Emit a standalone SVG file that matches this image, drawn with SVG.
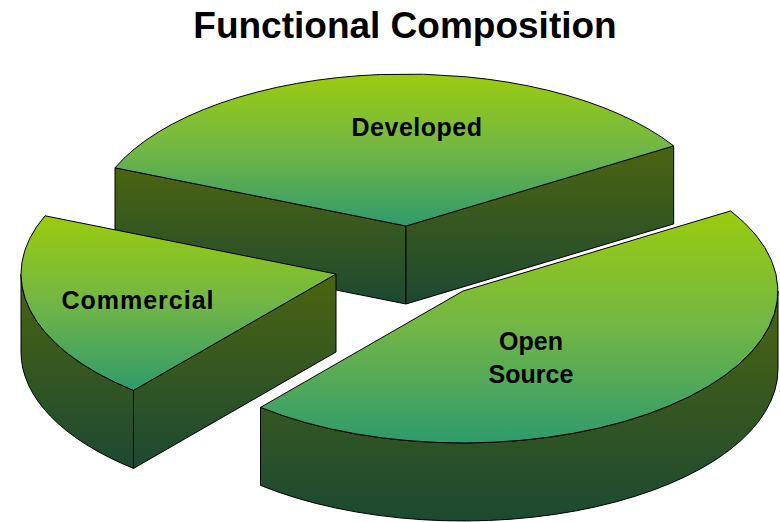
<svg xmlns="http://www.w3.org/2000/svg" width="780" height="522" viewBox="0 0 780 522">
<defs>
<linearGradient id="topG" x1="0" y1="0" x2="0" y2="1">
<stop offset="0" stop-color="#9ACC0E"/>
<stop offset="0.5" stop-color="#72B646"/>
<stop offset="1" stop-color="#2F9B6C"/>
</linearGradient>
<linearGradient id="sideG" x1="0" y1="0" x2="0" y2="1">
<stop offset="0" stop-color="#4C6410"/>
<stop offset="1" stop-color="#1C4932"/>
</linearGradient>
</defs>
<style>
.top{fill:url(#topG);stroke:#000;stroke-width:1;stroke-linejoin:round}
.side{fill:url(#sideG);stroke:#000;stroke-width:1;stroke-linejoin:round}
text{font-family:"Liberation Sans",Arial,sans-serif;font-weight:bold;fill:#000;text-anchor:middle}
.lbl{font-size:25px}
</style>
<rect width="780" height="522" fill="#fff"/>
<text x="405" y="38" style="font-size:37px">Functional Composition</text>
<g id="developed">
<path class="side" d="M115,167.8 L406,226 L406,304 L115,245.8 Z"/>
<path class="side" d="M406,226 L673.7,145.9 L673.7,223.9 L406,304 Z"/>
<path class="top" d="M406,226 L115,167.8 A315,152 0 0 1 673.7,145.9 Z"/>
<text class="lbl" x="417" y="136" letter-spacing="0.5">Developed</text>
</g>
<g id="commercial">
<path class="side" d="M21,274 A315,152 0 0 0 133.5,390.4 L133.5,468.4 A315,152 0 0 1 21,352 Z"/>
<path class="side" d="M133.5,390.4 L336,274 L336,352 L133.5,468.4 Z"/>
<path class="top" d="M336,274 L45,215.8 A315,152 0 0 0 133.5,390.4 Z"/>
<text class="lbl" x="138" y="309" letter-spacing="1">Commercial</text>
</g>
<g id="open-source">
<path class="side" d="M778,291 A315,152 0 0 1 260.5,407.4 L260.5,485.4 A315,152 0 0 0 778,369 Z"/>
<path class="top" d="M463,291 L730.7,210.9 A315,152 0 0 1 260.5,407.4 Z"/>
<text class="lbl" x="531" y="350">Open</text>
<text class="lbl" x="531" y="383">Source</text>
</g>
</svg>
